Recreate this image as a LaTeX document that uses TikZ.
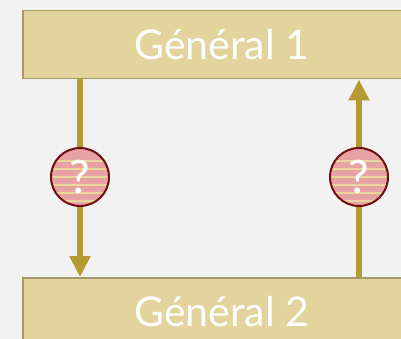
\documentclass[tikz,border=0pt]{standalone}
\usepackage{fontspec}
\setmainfont{Lato}
\usetikzlibrary{arrows.meta}
\definecolor{bg}{HTML}{F2F2F2}
\definecolor{boxfill}{HTML}{E2D49C}
\definecolor{boxline}{HTML}{A69868}
\definecolor{arrowc}{HTML}{B39A31}
\definecolor{qfill}{HTML}{E7A3A3}
\definecolor{qstripe}{HTML}{E9D69C}
\definecolor{qline}{HTML}{6E0F12}
\tikzset{
  genbox/.style={draw=boxline, line width=1.5pt, fill=boxfill, text=white,
    minimum width=398pt, minimum height=68pt, anchor=north west, inner sep=0pt,
    font=\fontsize{41}{48}\selectfont},
  flow/.style={draw=arrowc, line width=6pt, -{Triangle[length=21pt,width=20pt]}},
  qmark/.style={circle, minimum size=58pt, inner sep=0pt, text=white,
    font=\fontsize{46}{50}\selectfont}
}
\begin{document}
\begin{tikzpicture}[x=1pt,y=-1pt]
\fill[bg] (0,0) rectangle (401,339);
\useasboundingbox (0,0) rectangle (401,339);
\node[genbox] (g1) at (22,10) {Général 1};
\node[genbox] (g2) at (22,277) {Général 2};
\coordinate (c1) at (80,177);
\coordinate (c2) at (359,177);
\draw[flow] (c1 |- g1.south) -- (c1 |- g2.north);
\draw[flow] (c2 |- g2.north) -- (c2 |- g1.south);
\foreach \c in {c1,c2}{
  \fill[qfill] (\c) circle (29pt);
  \begin{scope}
    \clip (\c) circle (29pt);
    \foreach \dy in {-16,-8,0,8,16,24}
      \draw[qstripe, line width=1.6pt] ([yshift=-\dy pt]\c) ++(-30,0) -- ++(60,0);
  \end{scope}
  \draw[qline, line width=2pt] (\c) circle (29pt);
}
\node[qmark] (q1) at (c1) {?};
\node[qmark] (q2) at (c2) {?};
\end{tikzpicture}
\end{document}
